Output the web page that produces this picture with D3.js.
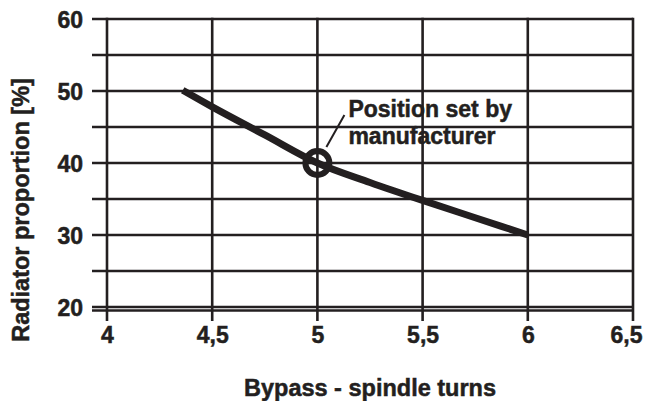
<!DOCTYPE html>
<html>
<head>
<meta charset="utf-8">
<script src="https://d3js.org/d3.v7.min.js"></script>
<style>
  body { margin: 0; background: #fff; }
  text { font-family: "Liberation Sans", Arial, Helvetica, sans-serif; font-weight: bold; fill: #231f20;
         stroke: #231f20; stroke-width: 0.5px; }
</style>
</head>
<body>
<div id="chart"></div>
<script>
// data
const turns = [4.36, 4.5, 4.75, 5, 5.25, 5.5, 5.75, 6];
const proportion = [50.1, 47.8, 43.9, 40, 37.3, 34.8, 32.4, 30];
const xTicks = [4, 4.5, 5, 5.5, 6, 6.5];
const yGrid = [20, 25, 30, 35, 40, 45, 50, 55, 60];
const yLabels = [20, 30, 40, 50, 60];
const factoryPoint = [5, 40];

const W = 645, H = 401;
const ink = "#231f20";

const svg = d3.select("#chart").append("svg")
  .attr("width", W).attr("height", H);

const x = d3.scaleLinear().domain([4, 6.5]).range([107, 633]);
const y = d3.scaleLinear().domain([20, 60]).range([307, 19]);

// horizontal grid lines (stick out to the left)
svg.append("g").selectAll("line")
  .data(yGrid)
  .join("line")
    .attr("x1", x(4) - 15)
    .attr("x2", x(6.5))
    .attr("y1", d => y(d))
    .attr("y2", d => y(d))
    .attr("stroke", ink)
    .attr("stroke-width", 2.6);

// second bottom line (double line)
svg.append("line")
  .attr("x1", x(4) - 15).attr("x2", x(6.5))
  .attr("y1", y(20) + 3.5).attr("y2", y(20) + 3.5)
  .attr("stroke", ink).attr("stroke-width", 2.4);

// vertical grid lines (stick out below)
svg.append("g").selectAll("line")
  .data(xTicks)
  .join("line")
    .attr("x1", d => x(d))
    .attr("x2", d => x(d))
    .attr("y1", y(60) - 1.3)
    .attr("y2", y(20) + 14)
    .attr("stroke", ink)
    .attr("stroke-width", 2.6);

// tick labels
const fmt = d => String(d).replace(".", ",");

svg.append("g")
  .attr("transform", `translate(0, ${y(20) + 20})`)
  .call(d3.axisBottom(x).tickValues(xTicks).tickSize(0).tickPadding(0).tickFormat(fmt))
  .call(g => g.select(".domain").remove())
  .selectAll("text")
    .attr("dy", "0.71em")
    .attr("dx", d => d === 6.5 ? -7 : 0)
    .style("font-size", "23px");

svg.append("g")
  .attr("transform", `translate(${x(4) - 24}, 0)`)
  .call(d3.axisLeft(y).tickValues(yLabels).tickSize(0).tickPadding(0))
  .call(g => g.select(".domain").remove())
  .selectAll("text")
    .attr("dy", "0.36em")
    .style("font-size", "23px");

// axis titles
svg.append("text")
  .attr("x", 370)
  .attr("y", 396)
  .attr("text-anchor", "middle")
  .style("font-size", "23.5px")
  .text("Bypass - spindle turns");

svg.append("text")
  .attr("transform", `translate(29, 210) rotate(-90)`)
  .attr("text-anchor", "middle")
  .style("font-size", "23.5px")
  .text("Radiator proportion [%]");

// the curve
const line = d3.line()
  .x((d, i) => x(turns[i]))
  .y(d => y(d))
  .curve(d3.curveMonotoneX);

svg.append("path")
  .datum(proportion)
  .attr("d", line)
  .attr("fill", "none")
  .attr("stroke", ink)
  .attr("stroke-width", 7);

// factory setting marker + annotation
const px = x(factoryPoint[0]), py = y(factoryPoint[1]);
svg.append("circle")
  .attr("cx", px).attr("cy", py).attr("r", 12)
  .attr("fill", "none")
  .attr("stroke", ink)
  .attr("stroke-width", 6);

svg.append("line")
  .attr("x1", px + 9).attr("y1", py - 16)
  .attr("x2", px + 27).attr("y2", py - 48)
  .attr("stroke", ink).attr("stroke-width", 2);

const note = svg.append("text")
  .attr("x", px + 31)
  .attr("y", py - 46)
  .style("font-size", "23px");
note.append("tspan").attr("x", px + 31).text("Position set by");
note.append("tspan").attr("x", px + 31).attr("dy", 27).text("manufacturer");
</script>
</body>
</html>
